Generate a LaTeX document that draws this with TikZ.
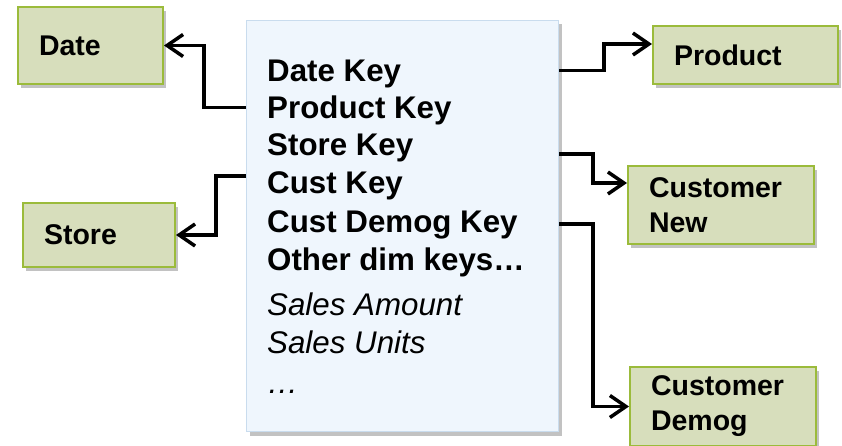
\documentclass[tikz,border=0pt]{standalone}
\usepackage{fontspec}
\setmainfont{Liberation Sans}
\usetikzlibrary{arrows.meta,shadows,calc}
\definecolor{dimfill}{HTML}{D7DEBC}
\definecolor{dimline}{HTML}{9BBB3B}
\definecolor{factfill}{HTML}{EFF6FD}
\definecolor{factline}{HTML}{C9DCEE}
\begin{document}
\begin{tikzpicture}[x=1pt,y=-1pt,
  shadowstyle/.style={drop shadow={shadow xshift=3pt,shadow yshift=-4pt,fill=black!60,opacity=0.4}},
  dimbox/.style={draw=dimline, line width=2pt, fill=dimfill, anchor=north west, align=left,
    inner xsep=21pt, inner ysep=0pt, font=\fontsize{28.5}{35}\selectfont\bfseries, shadowstyle},
  factbox/.style={draw=factline, line width=1pt, fill=factfill, anchor=north west, inner sep=0pt, shadowstyle},
  keyline/.style={anchor=base west, inner sep=0pt, font=\fontsize{31.3}{36}\selectfont\bfseries},
  measline/.style={anchor=base west, inner sep=0pt, font=\fontsize{31.3}{36}\selectfont\itshape},
  conn/.style={line width=3.5pt, -{Straight Barb[length=16pt,width=22pt]}}]
\useasboundingbox (0,0) rectangle (842,446);

% dimension boxes
\node[dimbox, text width=103pt, minimum height=77pt] (date) at (17,6) {Date};
\node[dimbox, text width=143pt, minimum height=58pt] (product) at (652,25) {Product};
\node[dimbox, text width=144pt, minimum height=78pt] (custnew) at (627,165) {Customer\\New};
\node[dimbox, text width=144pt, minimum height=79pt] (custdemog) at (629,366) {Customer\\Demog};
\node[dimbox, text width=110pt, minimum height=64pt] (store) at (22,202) {Store};

% fact table
\node[factbox, minimum width=312pt, minimum height=411pt] (fact) at (246,20) {};
\node[keyline] (k1) at (267,81.7) {Date Key};
\node[keyline] (k2) at (267,118.3) {Product Key};
\node[keyline] (k3) at (267,156) {Store Key};
\node[keyline] (k4) at (267,194) {Cust Key};
\node[keyline] (k5) at (267,233) {Cust Demog Key};
\node[keyline] (k6) at (267,270.7) {Other dim keys…};
\node[measline] (m1) at (267,315) {Sales Amount};
\node[measline] (m2) at (267,353.3) {Sales Units};
\node[measline] (m3) at (267,393) {…};

% connectors
\coordinate (pIn) at ($(product.west)+(0,-11)$);
\coordinate (nIn) at ($(custnew.west)+(0,-22)$);
\draw[conn] ($(fact.east |- k1.base)+(0,-11)$) -- ++(45,0) |- (pIn);
\draw[conn] ($(fact.east |- k3.base)+(0,-2)$) -- ++(34,0) |- (nIn);
\draw[conn] ($(fact.east |- k5.base)+(0,-9)$) -- ++(34,0) |- (custdemog.west);
\draw[conn] ($(fact.west |- k2.base)+(0,-11)$) -- ++(-42,0) |- (date.east);
\draw[conn] ($(fact.west |- k4.base)+(0,-18)$) -- ++(-30,0) |- (store.east);
\end{tikzpicture}
\end{document}
